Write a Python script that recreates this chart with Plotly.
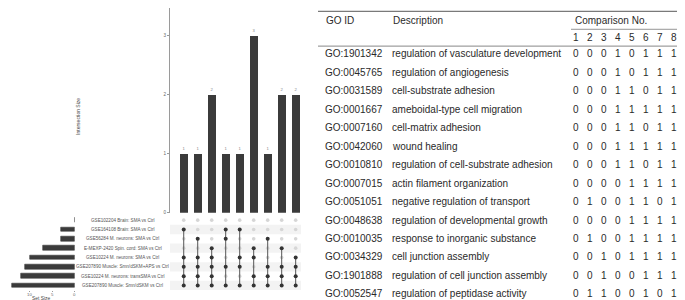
import plotly.graph_objects as go

W, H = 685, 300

# ---------------- data ----------------
set_names = [
    "GSE102204 Brain: SMA vs Ctrl",
    "GSE164108 Brain: SMA vs Ctrl",
    "GSE56284 M. neurons: SMA vs Ctrl",
    "E-MEXP-2420 Spin. cord: SMA vs Ctrl",
    "GSE10224 M. neurons: SMA vs Ctrl",
    "GSE207890 Muscle: Smn/dSKM+APS vs Ctrl",
    "GSE10224 M. neurons: transSMA vs Ctrl",
    "GSE207890 Muscle: Smn/dSKM vs Ctrl",
]
set_sizes = [0, 3, 3, 7, 10, 11, 12, 14]
set_size_ticks = [0, 5, 10]

intersection_sizes = [1, 1, 2, 1, 1, 3, 1, 2, 2]
intersection_members = [
    [2, 5, 6, 7, 8],
    [3, 5, 6, 7, 8],
    [4, 5, 6, 7, 8],
    [2, 3, 6, 8],
    [2, 5, 6, 8],
    [4, 5, 7, 8],
    [3, 6, 7, 8],
    [4, 6, 7, 8],
    [5, 6, 7, 8],
]
intersection_ticks = [0, 1, 2, 3]

go_ids = [
    "GO:1901342", "GO:0045765", "GO:0031589", "GO:0001667", "GO:0007160",
    "GO:0042060", "GO:0010810", "GO:0007015", "GO:0051051", "GO:0048638",
    "GO:0010035", "GO:0034329", "GO:1901888", "GO:0052547",
]
go_descriptions = [
    "regulation of vasculature development",
    "regulation of angiogenesis",
    "cell-substrate adhesion",
    "ameboidal-type cell migration",
    "cell-matrix adhesion",
    "wound healing",
    "regulation of cell-substrate adhesion",
    "actin filament organization",
    "negative regulation of transport",
    "regulation of developmental growth",
    "response to inorganic substance",
    "cell junction assembly",
    "regulation of cell junction assembly",
    "regulation of peptidase activity",
]
comparison_numbers = ["1", "2", "3", "4", "5", "6", "7", "8"]
comparison_flags = [
    [0, 0, 0, 1, 0, 1, 1, 1],
    [0, 0, 0, 1, 0, 1, 1, 1],
    [0, 0, 0, 1, 1, 0, 1, 1],
    [0, 0, 0, 1, 1, 1, 1, 1],
    [0, 0, 0, 1, 1, 0, 1, 1],
    [0, 0, 0, 1, 1, 1, 1, 1],
    [0, 0, 0, 1, 1, 0, 1, 1],
    [0, 0, 0, 0, 1, 1, 1, 1],
    [0, 1, 0, 0, 1, 1, 0, 1],
    [0, 0, 0, 0, 1, 1, 1, 1],
    [0, 1, 0, 0, 1, 1, 1, 1],
    [0, 0, 1, 0, 1, 1, 1, 1],
    [0, 0, 1, 0, 0, 1, 1, 1],
    [0, 1, 1, 0, 0, 1, 0, 1],
]

# ---------------- helpers ----------------
def px(x):
    return x / W


def py(y):
    return 1 - y / H


BAR = "#3b3b3b"
AX = "#9a9a9a"
TXT = "#555555"
SMALL = 4.6
FONT = "Liberation Sans"

n_int = len(intersection_sizes)
n_sets = len(set_names)
cols = list(range(n_int))
rows = list(range(n_sets))
XR = [-0.98, 8.38]

fig = go.Figure()

# intersection bars
fig.add_trace(go.Bar(
    x=cols, y=intersection_sizes, width=0.58, marker_color=BAR,
    marker_line_width=0, text=[str(v) for v in intersection_sizes],
    textposition="outside", textfont=dict(size=4.2, color="#8a8a8a"),
    cliponaxis=False, xaxis="x", yaxis="y", showlegend=False,
))

# matrix dots and lines
for j, mem in enumerate(intersection_members):
    r_in = [m - 1 for m in mem]
    r_out = [r for r in rows if r not in r_in]
    fig.add_trace(go.Scatter(
        x=[j] * len(r_out), y=r_out, mode="markers",
        marker=dict(size=3.6, color="#d6d6d6"),
        xaxis="x2", yaxis="y2", showlegend=False, hoverinfo="skip",
    ))
    fig.add_trace(go.Scatter(
        x=[j, j], y=[min(r_in), max(r_in)], mode="lines",
        line=dict(color="#555555", width=1),
        xaxis="x2", yaxis="y2", showlegend=False, hoverinfo="skip",
    ))
    fig.add_trace(go.Scatter(
        x=[j] * len(r_in), y=r_in, mode="markers",
        marker=dict(size=4, color="#333333"),
        xaxis="x2", yaxis="y2", showlegend=False, hoverinfo="skip",
    ))

# set size bars
fig.add_trace(go.Bar(
    x=set_sizes, y=rows, orientation="h", width=0.5,
    marker=dict(color=BAR, line=dict(color=BAR, width=0.6)),
    xaxis="x3", yaxis="y3", showlegend=False,
))

# alternating matrix row shading
shapes = []
for r in rows:
    if r % 2 == 1:
        shapes.append(dict(
            type="rect", xref="x2", yref="y2", x0=XR[0], x1=XR[1],
            y0=r - 0.5, y1=r + 0.5, fillcolor="#f3f3f3",
            line=dict(width=0), layer="below",
        ))

annotations = []
# set labels
for r, name in enumerate(set_names):
    annotations.append(dict(
        x=px(115), xref="paper", y=r, yref="y2", text=name,
        showarrow=False, xanchor="center", yanchor="middle",
        font=dict(size=SMALL, color=TXT, family=FONT),
    ))

# set size tick labels (placed tight under the tick marks)
for t in set_size_ticks:
    annotations.append(dict(
        x=t, xref="x3", y=py(285.8), yref="paper", text=str(t),
        showarrow=False, xanchor="center", yanchor="top", borderpad=0,
        font=dict(size=4.3, color="#666666", family=FONT),
    ))

annotations.append(dict(
    x=px(70), y=py(110), xref="paper", yref="paper",
    text="Intersection Size", textangle=-90, showarrow=False,
    xanchor="center", yanchor="middle",
    font=dict(size=5, color="#444444", family=FONT),
))
annotations.append(dict(
    x=px(33), y=py(296.5), xref="paper", yref="paper",
    text="Set Size", showarrow=False, xanchor="center", yanchor="bottom",
    borderpad=0,
    font=dict(size=4.9, color="#444444", family=FONT),
))

# ---------------- table ----------------
TFONT = dict(family=FONT, size=10, color="#2a2a2a")
X_ID = 315.0
X_DESC = 382.0
X_NUM0 = 567.5
DX_NUM = 14.0
ROW0 = 46.3
DROW = 18.65
L_LEFT, L_RIGHT = 310, 683

def tab_text(x, y, text, anchor="left"):
    annotations.append(dict(
        x=px(x), y=py(y), xref="paper", yref="paper", text=text,
        showarrow=False, xanchor=anchor, yanchor="middle", font=TFONT,
    ))

tab_text(X_ID + 1, 12.3, "GO ID")
tab_text(X_DESC + 1, 12.3, "Description")
tab_text(X_NUM0 - 2.5, 12.3, "Comparison No.")
for k, c in enumerate(comparison_numbers):
    tab_text(X_NUM0 + k * DX_NUM, 30.0, c, "center")

for i, (gid, desc, flags) in enumerate(zip(go_ids, go_descriptions, comparison_flags)):
    y = ROW0 + i * DROW
    tab_text(X_ID, y, gid)
    tab_text(X_DESC, y, desc)
    for k, f in enumerate(flags):
        tab_text(X_NUM0 + k * DX_NUM, y, str(f), "center")

def hline(x0, x1, y, w):
    shapes.append(dict(
        type="line", xref="paper", yref="paper", x0=px(x0), x1=px(x1),
        y0=py(y), y1=py(y), line=dict(color="#7a7a7a", width=w),
    ))

hline(L_LEFT, L_RIGHT, 3.5, 1.3)
hline(563, L_RIGHT, 21.5, 0.8)
hline(L_LEFT, L_RIGHT, 38.5, 0.9)
hline(L_LEFT, L_RIGHT, 297.5, 1.3)

fig.update_layout(
    width=W, height=H, margin=dict(l=0, r=0, t=0, b=0),
    paper_bgcolor="white", plot_bgcolor="white",
    font=dict(family=FONT),
    bargap=0, showlegend=False,
    shapes=shapes, annotations=annotations,
    xaxis=dict(domain=[px(162), px(293)], range=XR, visible=False,
               anchor="y", fixedrange=True),
    yaxis=dict(domain=[py(206.7), 1], range=[0, 3.47], anchor="x",
               showline=True, linecolor=AX, linewidth=1, ticks="outside",
               ticklen=2, tickcolor=AX, tickvals=intersection_ticks,
               tickfont=dict(size=SMALL, color="#666666"),
               showgrid=False, zeroline=False),
    xaxis2=dict(domain=[px(162), px(293)], range=XR, visible=False,
                anchor="y2"),
    yaxis2=dict(domain=[py(285), py(209.6)], range=[7.5, -0.5],
                visible=False, anchor="x2"),
    xaxis3=dict(domain=[0, px(66.7)], range=[14.82, 0], anchor="y3",
                ticks="outside", ticklen=1, tickcolor=AX,
                tickvals=set_size_ticks, showticklabels=False,
                showline=False, showgrid=False, zeroline=False),
    yaxis3=dict(domain=[py(285), py(209.6)], range=[7.5, -0.5],
                visible=False, anchor="x3"),
)

fig.write_html("out.html")
